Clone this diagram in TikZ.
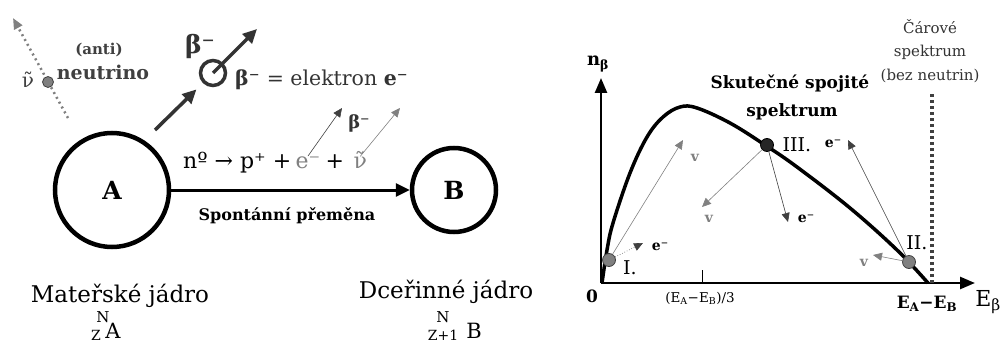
\documentclass[tikz,border=0pt]{standalone}
\usepackage{fontspec}
\setmainfont{DejaVu Serif}
\usepackage{tikz}
\usetikzlibrary{arrows.meta}
\newcommand\fsz[1]{\fontsize{#1}{#1}\selectfont}
\newcommand\antinu{\ooalign{ν\cr\hidewidth˜\hidewidth\cr}}

\begin{document}
\begin{tikzpicture}[x=1pt,y=-1pt,
  >={Triangle[length=14pt,width=13pt]},
  every node/.style={inner sep=0pt},
  nucleus/.style={circle,draw,line width=4.5pt,font=\fsz{25}\bfseries},
  elarrow/.style={->,line width=3.5pt,black!80},
  thinarr/.style={-{Triangle[length=9pt,width=8pt]},line width=0.6pt,black!75},
  nuarr/.style={thinarr,gray},
  dot/.style={circle,draw=black!75,fill=gray,line width=0.8pt,minimum size=13pt},
  lbl/.style={font=\fsz{14}\bfseries},
  axis/.style={-{Triangle[length=15pt,width=12pt]},line width=2.5pt}]
\useasboundingbox (0,0) rectangle (1001,342);

\node[nucleus,minimum size=114pt] (A) at (112,190) {A};
\node[nucleus,minimum size=84pt] (B) at (454,190) {B};
\draw[->,line width=3pt] (A) -- (B);

\node[anchor=base west,font=\fsz{22}] (eqa) at (183,168) {nº → p⁺ +};
\node[anchor=base west,font=\fsz{22},text=gray] (ee) at ([xshift=4pt]eqa.base east) {e⁻};
\node[anchor=base west,font=\fsz{22}] (eqb) at ([xshift=5pt]ee.base east) {+};
\node[anchor=base west,font=\fsz{22},text=gray] (anu) at ([xshift=9pt]eqb.base east) {\antinu};
\coordinate (betatip) at (342,108);
\coordinate (nutip) at (400,108);
\draw[thinarr] (ee.north) -- (betatip);
\draw[nuarr] (anu.north) -- (nutip);
\node[font=\fsz{18}\bfseries,text=black!80] (betasmall) at (359,123) {β⁻};
\node[font=\fsz{16}\bfseries] (conv) at (287,216) {Spontánní přeměna};

\node[font=\fsz{23}] (mother) at (120,296) {Mateřské jádro};
\node[font=\fsz{15}] (NA) at (103,317) {N};
\node[font=\fsz{14}] (ZA) at (96,335) {Z};
\node[font=\fsz{21}] (symA) at (113,331) {A};
\node[font=\fsz{23}] (daughter) at (446,292) {Dceřinné jádro};
\node[font=\fsz{15}] (NB) at (443,317) {N};
\node[font=\fsz{14}] (ZB) at (443,335) {Z+1};
\node[font=\fsz{21}] (symB) at (474,331) {B};

\coordinate (nustart) at (68,118);
\coordinate (nuend) at (13,18);
\draw[gray,line width=2.5pt,dash pattern=on 2pt off 3.5pt,-{Triangle[length=11pt,width=9pt]}] (nustart) -- (nuend);
\node[dot,minimum size=11pt] (nudot) at (48,82) {};
\node[font=\fsz{20},text=black!75] (nusym) at (28,82) {\antinu};
\node[font=\fsz{15}\bfseries,text=black!75] (anti) at (99,50) {(anti)};
\node[font=\fsz{19}\bfseries,text=black!75] (neutr) at (103,72) {neutrino};

\node[circle,draw=black!80,line width=3.5pt,minimum size=25pt] (el) at (213,73) {};
\coordinate (emit) at (155,130);
\coordinate (eltip) at (257,29);
\draw[elarrow,shorten >=9pt] (emit) -- (el.225);
\draw[elarrow] (el.center) -- (eltip);
\node[font=\fsz{25}\bfseries,text=black!80] (betaup) at (200,46) {β⁻};
\node[anchor=west,font=\fsz{20.5},text=black!80] (betaeq) at (235,80) {\bfseries β⁻ \mdseries= elektron \bfseries e⁻};

\coordinate (O) at (601,283);
\coordinate (ytop) at (601,78);
\coordinate (xend) at (975,283);
\draw[axis] (O) -- (ytop);
\draw[axis] (O) -- (xend);
\node[font=\fsz{18}\bfseries] (ylab) at (598,64) {n\textsubscript{β}};
\node[font=\fsz{22}] (xlab) at (988,302) {E\textsubscript{β}};
\node[font=\fsz{17}\bfseries] (zero) at (592,296) {0};
\draw[line width=1pt] (702,270) -- (702,283);
\node[font=\fsz{13.5}] (third) at (700,298) {(E\textsubscript{A}−E\textsubscript{B})/3};
\node[font=\fsz{17}\bfseries] (emax) at (927,304) {E\textsubscript{A}−E\textsubscript{B}};

\coordinate (linetop) at (932,93);
\coordinate (linebot) at (932,283);
\draw[line width=3.5pt,dash pattern=on 3pt off 3pt,black!75] (linebot) -- (linetop);
\node[font=\fsz{15},text=black!80] (linespecA) at (930,27) {Čárové};
\node[font=\fsz{15},text=black!80] (linespecB) at (930,52) {spektrum};
\node[font=\fsz{15},text=black!80] (linespecC) at (930,76) {(bez neutrin)};
\node[font=\fsz{17}\bfseries] (realspecA) at (790,84) {Skutečné spojité};
\node[font=\fsz{17}\bfseries] (realspecB) at (792,112) {spektrum};

\draw[line width=3.5pt,line join=round] plot[smooth,tension=0.6] coordinates {(602,283) (607,250) (613,223) (630,173) (647,137) (663,117) (680,107) (697,108) (730,123) (765,145) (797,167) (850,208) (897,250) (928,283)};

\node[dot] (pI) at (609,260) {};
\node[dot,fill=black!85,draw=black] (pIII) at (767,145) {};
\node[dot] (pII) at (909,262) {};
\node[font=\fsz{19}] (lI) at (630,268) {I.};
\node[font=\fsz{19}] (lII) at (917,243) {II.};
\node[font=\fsz{19}] (lIII) at (797,145) {III.};

\coordinate (nuI) at (683,140);
\coordinate (eI) at (643,243);
\coordinate (nuIII) at (702,207);
\coordinate (eIII) at (788,222);
\coordinate (eII) at (848,140);
\coordinate (nuII) at (873,255);
\draw[nuarr] (pI) -- (nuI);
\draw[thinarr,dotted] (pI) -- (eI);
\draw[nuarr] (pIII) -- (nuIII);
\draw[thinarr] (pIII) -- (eIII);
\draw[thinarr] (pII) -- (eII);
\draw[nuarr] (pII) -- (nuII);
\node[lbl,text=gray] (vI) at (695,158) {v};
\node[lbl] (eIlab) at (660,247) {e⁻};
\node[lbl,text=gray] (vIII) at (709,219) {v};
\node[lbl] (eIIIlab) at (806,219) {e⁻};
\node[lbl] (eIIlab) at (833,144) {e⁻};
\node[lbl,text=gray] (vII) at (864,263) {v};
\end{tikzpicture}
\end{document}
